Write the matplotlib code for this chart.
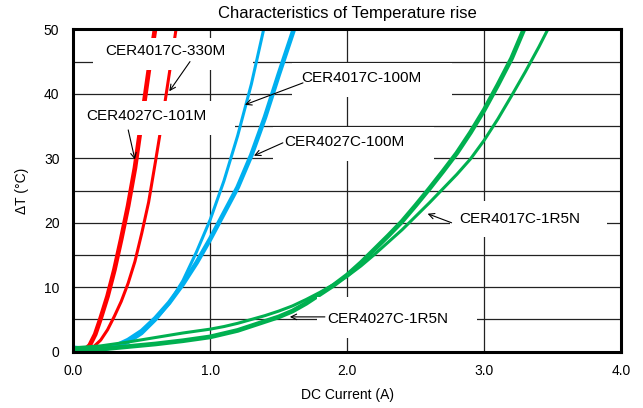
import matplotlib
matplotlib.use('Agg')
import matplotlib.pyplot as plt
from matplotlib.patches import Rectangle
from matplotlib.ticker import MultipleLocator

plt.rcParams['font.family'] = ['Liberation Sans', 'DejaVu Sans']

# CER4027C-101M (thick red)
i_101m = [0, 0.08, 0.12, 0.16, 0.2, 0.25, 0.3, 0.35, 0.4, 0.45, 0.5, 0.55, 0.6]
t_101m = [0.2, 0.2, 1.0, 2.7, 5.2, 8.6, 12.7, 17.5, 22.6, 28.5, 36, 43.5, 50.5]

# CER4017C-330M (thin red)
i_330m = [0, 0.1, 0.15, 0.2, 0.25, 0.3, 0.35, 0.4, 0.45, 0.5, 0.55, 0.6, 0.65, 0.7, 0.75]
t_330m = [0.2, 0.2, 0.8, 1.8, 3.4, 5.5, 7.8, 10.6, 14, 18.4, 23.2, 29.5, 36, 43, 50]

# CER4017C-100M (thin blue)
i_17_100m = [0, 0.1, 0.2, 0.3, 0.4, 0.5, 0.6, 0.7, 0.8, 0.9, 1.0, 1.1, 1.2, 1.3, 1.39]
t_17_100m = [0.6, 0.5, 0.4, 0.7, 1.4, 2.8, 4.9, 7.5, 11, 15.5, 20.5, 26.5, 33.5, 41.5, 50]

# CER4027C-100M (thick blue)
i_27_100m = [0, 0.1, 0.2, 0.3, 0.4, 0.5, 0.6, 0.7, 0.8, 0.9, 1.0, 1.1, 1.2, 1.3, 1.4, 1.5, 1.61]
t_27_100m = [0.6, 0.4, 0.3, 0.8, 1.8, 3.2, 5.2, 7.6, 10.5, 13.8, 17.5, 21.5, 25.5, 30.5, 36.4, 43, 50]

# CER4017C-1R5N (thin green)
i_17_1r5n = [0, 0.2, 0.4, 0.6, 0.8, 1.0, 1.1, 1.2, 1.3, 1.4, 1.5, 1.6, 1.7, 1.8, 1.9,
             2.0, 2.1, 2.2, 2.3, 2.4, 2.5, 2.6, 2.7, 2.8, 2.9, 3.0, 3.1, 3.2, 3.3, 3.4, 3.46]
t_17_1r5n = [0.6, 0.9, 1.5, 2.2, 2.9, 3.5, 3.9, 4.4, 5.0, 5.6, 6.3, 7.1, 8.1, 9.2, 10.4,
             11.7, 13.3, 15.1, 17.0, 18.9, 21.0, 23.1, 25.3, 27.5, 29.9, 32.8, 36.1, 39.7, 43.4, 47.3, 49.8]

# CER4027C-1R5N (thick green)
i_27_1r5n = [0, 0.2, 0.4, 0.6, 0.8, 1.0, 1.1, 1.2, 1.3, 1.4, 1.5, 1.6, 1.7, 1.8, 1.9,
             2.0, 2.1, 2.2, 2.3, 2.4, 2.5, 2.6, 2.7, 2.8, 2.9, 3.0, 3.1, 3.2, 3.29]
t_27_1r5n = [0.2, 0.4, 0.8, 1.2, 1.7, 2.3, 2.8, 3.3, 4.0, 4.7, 5.4, 6.3, 7.5, 8.9, 10.3,
             11.9, 13.8, 15.9, 18.0, 20.2, 22.7, 25.3, 28.0, 30.8, 34.0, 37.5, 41.4, 45.5, 50]

x_ticks = [0, 1, 2, 3, 4]
x_ticklabels = ['0.0', '1.0', '2.0', '3.0', '4.0']
y_ticks = [0, 10, 20, 30, 40, 50]

rojo = '#ff0000'
azul = '#00b0f0'
verde = '#00b050'

fig = plt.figure(figsize=(6.43, 4.08), dpi=100)
ax = fig.add_axes([0.114, 0.138, 0.852, 0.790])

ax.plot(i_101m, t_101m, color=rojo, lw=3.4, zorder=3)
ax.plot(i_330m, t_330m, color=rojo, lw=2.2, zorder=3)
ax.plot(i_17_100m, t_17_100m, color=azul, lw=2.2, zorder=3)
ax.plot(i_27_100m, t_27_100m, color=azul, lw=3.4, zorder=3)
ax.plot(i_17_1r5n, t_17_1r5n, color=verde, lw=2.2, zorder=3)
ax.plot(i_27_1r5n, t_27_1r5n, color=verde, lw=3.4, zorder=3)

ax.set_xlim(0, 4)
ax.set_ylim(0, 50)
ax.set_xticks(x_ticks)
ax.set_xticklabels(x_ticklabels)
ax.set_yticks(y_ticks)
ax.yaxis.set_minor_locator(MultipleLocator(5))
ax.tick_params(which='both', length=0, labelsize=10)
ax.tick_params(axis='x', pad=9)
ax.tick_params(axis='y', pad=10)
ax.grid(True, which='both', color='#222222', lw=0.9, zorder=1)
ax.set_axisbelow(True)
for s in ax.spines.values():
    s.set_linewidth(2.2)
    s.set_zorder(6)

ax.set_title('Characteristics of Temperature rise', fontsize=12, pad=8)
ax.set_xlabel('DC Current (A)', fontsize=10, labelpad=7)
ax.set_ylabel('ΔT (°C)', fontsize=10, labelpad=11)

flecha = dict(arrowstyle='->', color='black', lw=0.8, shrinkA=0, shrinkB=0)

# (texto, posicion texto, alineacion, caja blanca, punta, inicio flecha)
etiquetas = [
    ('CER4017C-330M', (0.669, 46.6), 'center', (0.144, 43.7, 1.168, 5.0), (0.701, 40.4), (0.852, 45.0)),
    ('CER4027C-101M', (0.531, 36.5), 'center', (0.0, 33.6, 1.18, 5.3), (0.450, 29.8), (0.401, 34.4)),
    ('CER4017C-100M', (1.667, 42.5), 'left', (1.596, 39.5, 1.168, 5.3), (1.253, 38.3), (1.677, 41.7)),
    ('CER4027C-100M', (1.538, 32.6), 'left', (1.458, 29.6, 1.175, 5.3), (1.319, 30.4), (1.53, 32.4)),
    ('CER4017C-1R5N', (2.815, 20.6), 'left', (2.75, 17.8, 1.15, 5.6), (2.587, 21.4), (2.762, 20.0)),
    ('CER4027C-1R5N', (1.852, 5.1), 'left', (1.778, 2.1, 1.168, 6.4), (1.581, 5.4), (1.837, 5.4)),
]

for texto, pos, ha, caja, punta, inicio in etiquetas:
    ax.add_patch(Rectangle(caja[:2], caja[2], caja[3], fc='white', ec='none', zorder=4))
    ax.text(pos[0], pos[1], texto, fontsize=11, ha=ha, va='center', zorder=5)
    ax.annotate('', xy=punta, xytext=inicio, arrowprops=flecha, zorder=5)

fig.savefig('out.png', dpi=100)
